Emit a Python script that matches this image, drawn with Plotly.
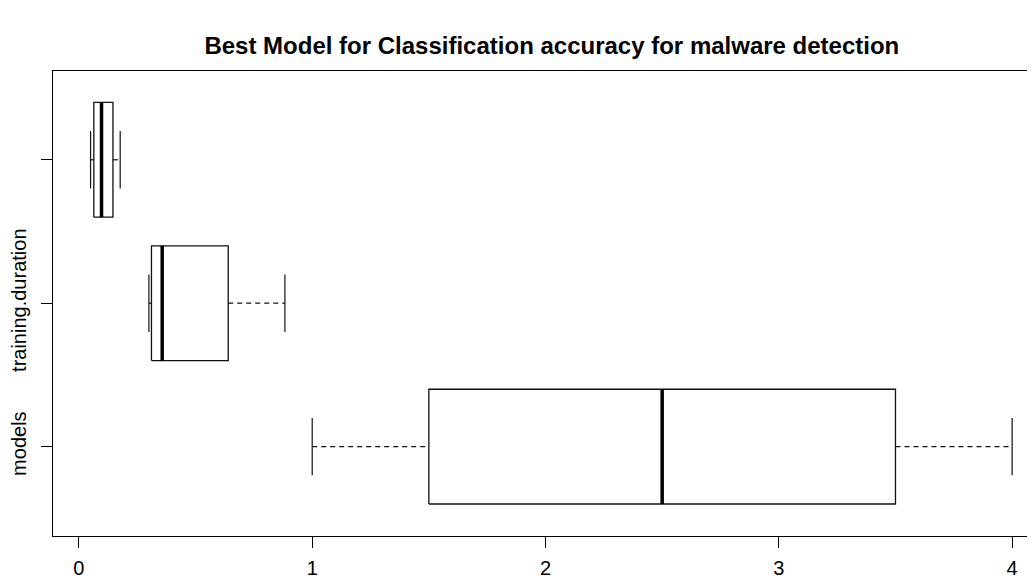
import plotly.graph_objects as go

# Data
categories = ["models", "training.duration", "accuracy"]
tick_labels = ["models", "training.duration", ""]
positions = [1, 2, 3]
lower_whisker = [1.0, 0.300, 0.050]
q1_vals = [1.5, 0.311, 0.064]
median_vals = [2.5, 0.357, 0.097]
q3_vals = [3.5, 0.640, 0.146]
upper_whisker = [4.0, 0.883, 0.177]

x_ticks = [0, 1, 2, 3, 4]

BOX_HALF = 0.4
CAP_HALF = 0.2
LINE = "#111111"

fig = go.Figure()
for i, cat in enumerate(categories):
    p = positions[i]
    lo, a, m, b, hi = lower_whisker[i], q1_vals[i], median_vals[i], q3_vals[i], upper_whisker[i]
    # box
    fig.add_trace(go.Scatter(x=[a, b, b, a, a],
                             y=[p - BOX_HALF, p - BOX_HALF, p + BOX_HALF, p + BOX_HALF, p - BOX_HALF],
                             mode="lines", line=dict(color=LINE, width=1.3), name=cat,
                             showlegend=False, hoverinfo="skip"))
    # median
    fig.add_trace(go.Scatter(x=[m, m], y=[p - BOX_HALF, p + BOX_HALF], mode="lines",
                             line=dict(color="black", width=3.5), showlegend=False, hoverinfo="skip"))
    # whiskers
    fig.add_trace(go.Scatter(x=[lo, a], y=[p, p], mode="lines",
                             line=dict(color=LINE, width=1.2, dash="5px,4px"), showlegend=False, hoverinfo="skip"))
    fig.add_trace(go.Scatter(x=[b, hi], y=[p, p], mode="lines",
                             line=dict(color=LINE, width=1.2, dash="5px,4px"), showlegend=False, hoverinfo="skip"))
    # staples
    for w in (lo, hi):
        fig.add_trace(go.Scatter(x=[w, w], y=[p - CAP_HALF, p + CAP_HALF], mode="lines",
                                 line=dict(color=LINE, width=1.2), showlegend=False, hoverinfo="skip"))

# page body has an 8px default margin; size the figure so the chart sits where the reference has it
fig.update_layout(
    width=1027, height=571,
    margin=dict(l=45, r=0, t=63, b=43, autoexpand=False),
    paper_bgcolor="white", plot_bgcolor="white",
    font=dict(family="Liberation Sans, Arial, sans-serif", color="black", size=20),
    title=dict(text="<b>Best Model for Classification accuracy for malware detection</b>",
               x=0.508, xref="paper", xanchor="center",
               y=1 - 38 / 571, yref="container", yanchor="middle",
               font=dict(size=24, color="black")),
    xaxis=dict(range=[-0.111, 4.098], tickvals=x_ticks, ticktext=[str(t) for t in x_ticks],
               showgrid=False, zeroline=False, showline=True, linecolor="black", linewidth=1.3,
               mirror=True, ticks="outside", ticklen=11, tickcolor="black", tickwidth=1.2,
               ticklabelstandoff=3, automargin=False),
    yaxis=dict(range=[0.377, 3.619], tickvals=positions, ticktext=tick_labels,
               showgrid=False, zeroline=False, showline=True, linecolor="black", linewidth=1.3,
               mirror=False, ticks="outside", ticklen=11, tickcolor="black", tickwidth=1.2,
               tickangle=-90, ticklabelstandoff=7, automargin=False),
)

fig.write_html("out.html")
